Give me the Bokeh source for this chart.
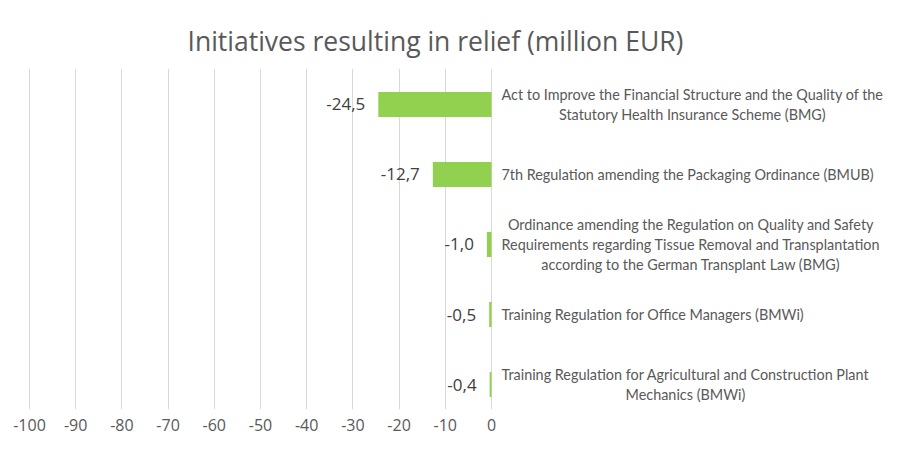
from bokeh.plotting import figure
from bokeh.models import FixedTicker, ColumnDataSource, Range1d
from bokeh.core.properties import value
from bokeh.embed import file_html
from bokeh.resources import INLINE

title = "Initiatives resulting in relief (million EUR)"
categories = [
    "Act to Improve the Financial Structure and the Quality of the\nStatutory Health Insurance Scheme (BMG)",
    "7th Regulation amending the Packaging Ordinance  (BMUB)",
    "Ordinance amending the Regulation on Quality and Safety\nRequirements regarding Tissue Removal and Transplantation\naccording to the German Transplant Law (BMG)",
    "Training Regulation for Office Managers (BMWi)",
    "Training Regulation for Agricultural and Construction Plant\nMechanics (BMWi)",
]
values = [-24.5, -12.7, -1.0, -0.5, -0.4]
value_labels = ["-24,5", "-12,7", "-1,0", "-0,5", "-0,4"]
x_ticks = [-100, -90, -80, -70, -60, -50, -40, -30, -20, -10, 0]

n = len(categories)
ypos = [n - 1 - i for i in range(n)]  # first category on top
src = ColumnDataSource(dict(y=ypos, v=values, vl=value_labels, cat=categories, zero=[0] * n))

p = figure(width=891, height=437, output_backend="svg", toolbar_location=None,
           x_range=Range1d(-100.43, 86.58), y_range=Range1d(-0.357, 4.514),
           min_border_left=27, min_border_right=0, min_border_top=68, min_border_bottom=28)
p.outline_line_color = None
p.background_fill_color = "white"

p.hbar(y="y", left="v", right="zero", height=0.36, source=src, color="#92D050", line_color=None)

p.text(x="v", y="y", text="vl", source=src, x_offset=-13, text_align="right", text_baseline="middle",
       text_font=value("Open Sans"), text_font_size="17px", text_color="#404040")

p.text(x="zero", y="y", text="cat", source=src, x_offset=10, anchor="center_left", text_align="center",
       text_baseline="middle", text_font=value("Lato"), text_font_size="14.4px",
       text_color="#595959", text_line_height=1.18)

p.xaxis.ticker = FixedTicker(ticks=x_ticks)
p.xaxis.major_label_overrides = {t: str(t) for t in x_ticks}
p.xaxis.axis_line_color = None
p.xaxis.major_tick_line_color = None
p.xaxis.minor_tick_line_color = None
p.xaxis.major_label_standoff = 3
p.xaxis.major_label_text_font = "Open Sans"
p.xaxis.major_label_text_font_size = "16px"
p.xaxis.major_label_text_color = "#595959"
p.yaxis.visible = False
p.xgrid.grid_line_color = "#d9d9d9"
p.ygrid.grid_line_color = None

p.title.text = title
p.title.align = "left"
p.title.offset = 160
p.title.standoff = 19
p.title.text_font = "Open Sans"
p.title.text_font_style = "normal"
p.title.text_font_size = "26.5px"
p.title.text_color = "#595959"

open("out.html", "w").write(file_html(p, INLINE))
